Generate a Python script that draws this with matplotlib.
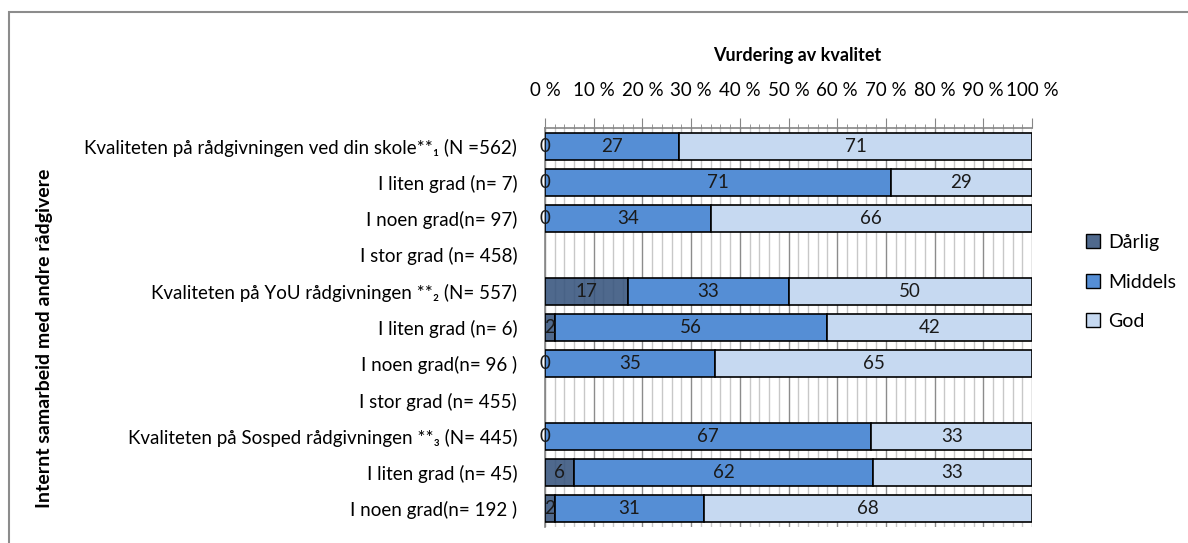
import numpy as np
import matplotlib
matplotlib.use("Agg")
import matplotlib.pyplot as plt
from matplotlib.lines import Line2D
from matplotlib.patches import Rectangle
from matplotlib.ticker import MultipleLocator, FuncFormatter

plt.rcParams['font.family'] = ['Lato', 'DejaVu Sans']

categories = [
    "Kvaliteten på rådgivningen ved din skole**₁ (N =562)",
    "I liten grad (n= 7)",
    "I noen grad(n= 97)",
    "I stor grad (n= 458)",
    "Kvaliteten på YoU rådgivningen **₂ (N= 557)",
    "I liten grad (n= 6)",
    "I noen grad(n= 96 )",
    "I stor grad (n= 455)",
    "Kvaliteten på Sosped rådgivningen **₃ (N= 445)",
    "I liten grad (n= 45)",
    "I noen grad(n= 192 )",
]
series_names = ["Dårlig", "Middels", "God"]
# None = no data for that row
darlig  = [0, 0, 0, None, 17, 2, 0, None, 0, 6, 2]
middels = [27, 71, 34, None, 33, 56, 35, None, 67, 62, 31]
god     = [71, 29, 66, None, 50, 42, 65, None, 33, 33, 68]

colors = [(0.21, 0.33, 0.49, 0.88), "#558ED5", "#C6D9F1"]

W, H = 1188, 543
fig = plt.figure(figsize=(W / 100, H / 100), dpi=100)
ax = fig.add_axes([545 / W, 1 - 527 / H, (1032 - 545) / W, (527 - 128) / H])

raw = np.array([[np.nan if v is None else v for v in s] for s in (darlig, middels, god)], dtype=float)
tot = np.nansum(raw, axis=0)
tot[tot == 0] = 1
pct = np.nan_to_num(raw) / tot * 100

y = np.arange(len(categories))
left = np.zeros(len(categories))
for i, name in enumerate(series_names):
    bars = ax.barh(y, pct[i], left=left, height=0.74, color=colors[i],
                   edgecolor="black", linewidth=1.2, label=name, zorder=3)
    for j, b in enumerate(bars):
        if np.isnan(raw[i, j]):
            b.set_visible(False)
            continue
        ax.text(left[j] + pct[i][j] / 2, y[j], f"{int(raw[i, j])}",
                ha="center", va="center", fontsize=13.5, color="#1a1a1a", zorder=4)
    left = left + pct[i]

ax.set_xlim(0, 100)
ax.set_ylim(len(categories) - 0.5, -0.5)
ax.set_yticks(y)
ax.set_yticklabels(categories, fontsize=13.5)
ax.tick_params(axis="y", length=0, pad=20)

ax.xaxis.set_ticks_position("top")
ax.xaxis.set_major_locator(MultipleLocator(10))
ax.xaxis.set_minor_locator(MultipleLocator(2))
ax.xaxis.set_major_formatter(FuncFormatter(lambda v, p: f"{int(v)} %"))
ax.tick_params(axis="x", which="major", length=7, color="#868686", labelsize=13.5, pad=14)
ax.tick_params(axis="x", which="minor", length=3, color="#868686")
ax.grid(True, axis="x", which="minor", color="#C8C8C8", linewidth=1, zorder=1)
ax.grid(True, axis="x", which="major", color="#8C8C8C", linewidth=1, zorder=1)
ax.set_axisbelow(True)

for s in ("right", "bottom"):
    ax.spines[s].set_visible(False)
for s in ("left", "top"):
    ax.spines[s].set_color("#868686")
    ax.spines[s].set_linewidth(1.2)

fig.text(797 / W, 1 - 55 / H, "Vurdering av kvalitet", ha="center", va="center",
         fontsize=13, fontweight="bold")
fig.text(45 / W, 1 - 338 / H, "Internt samarbeid med andre rådgivere", ha="center", va="center",
         rotation=90, fontsize=14, fontweight="bold")

handles = [Line2D([0], [0], marker="s", linestyle="none", markersize=10,
                  markerfacecolor=c, markeredgecolor="black", markeredgewidth=1)
           for c in colors]
fig.legend(handles, series_names, loc="center left", bbox_to_anchor=(1083 / W, 1 - 282 / H),
           frameon=False, fontsize=14, labelspacing=1.15, handletextpad=0.3, handlelength=1.0,
           borderaxespad=0, borderpad=0)

fig.add_artist(Rectangle((9 / W, -0.1), 1.2, (543 - 12) / H + 0.1, transform=fig.transFigure,
                         fill=False, edgecolor="#8C8C8C", linewidth=1.5, clip_on=False))

fig.savefig("out.png", dpi=100)
